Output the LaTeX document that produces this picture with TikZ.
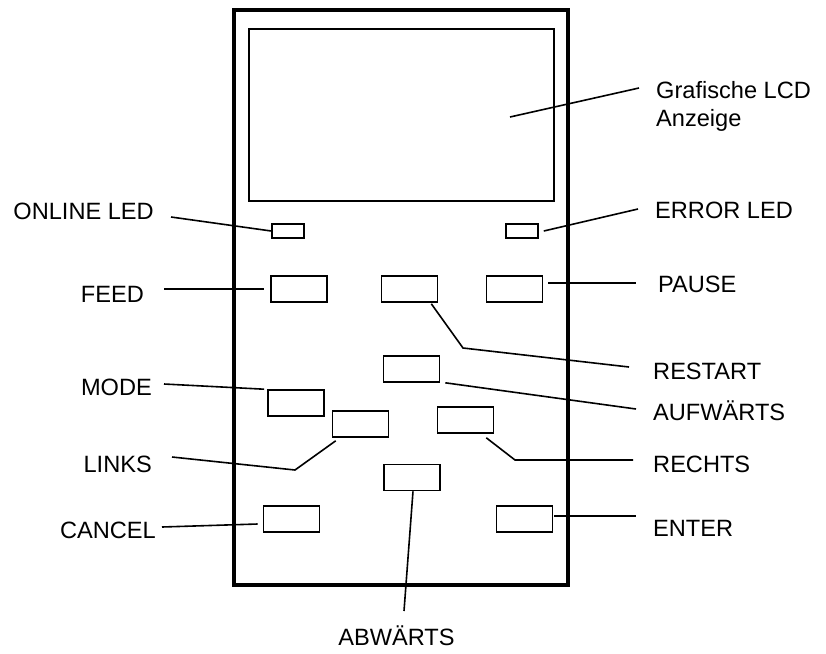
\documentclass[tikz,border=0pt]{standalone}
\usepackage{fontspec}
\setmainfont{Liberation Sans}
\usepackage{tikz}

\begin{document}
\begin{tikzpicture}[x=1pt,y=-1pt,
  btn/.style={draw,line width=1.6pt,minimum width=56pt,minimum height=26pt,inner sep=0pt},
  led/.style={btn,minimum width=32pt,minimum height=14pt},
  lbl/.style={font=\fontsize{23.6}{27.4}\selectfont,inner sep=0pt},
  lead/.style={line width=1.6pt}]
  \useasboundingbox (0,0) rectangle (826,653);
  % housing and display
  \node[draw,line width=3.3pt,minimum width=334pt,minimum height=575pt,inner sep=0pt] (panel) at (401,297.5) {};
  \node[draw,line width=1.6pt,minimum width=305pt,minimum height=172pt,inner sep=0pt] (lcd) at (401.5,115) {};
  % LEDs and keys
  \node[led] (onlineLed) at (288,231) {};
  \node[led] (errLed) at (522,231) {};
  \node[btn] (feed) at (299,289) {};
  \node[btn] (restart) at (409.5,289) {};
  \node[btn] (pause) at (514.5,289) {};
  \node[btn] (up) at (411.5,369) {};
  \node[btn] (mode) at (296,403) {};
  \node[btn] (left) at (360.5,424) {};
  \node[btn] (right) at (465.5,420) {};
  \node[btn] (down) at (412,477.5) {};
  \node[btn] (cancel) at (291.5,519) {};
  \node[btn] (enter) at (524.5,519) {};
  % labels
  \node[lbl,anchor=north west,align=left] (lcdLbl) at (656,81.5) {Grafische LCD\\Anzeige};
  \node[lbl,anchor=base east] (onlineLbl) at (154,219) {ONLINE LED};
  \node[lbl,anchor=base west] (errLbl) at (655,218.3) {ERROR LED};
  \node[lbl,anchor=base east] (feedLbl) at (144,302) {FEED};
  \node[lbl,anchor=base west] (pauseLbl) at (658,292.3) {PAUSE};
  \node[lbl,anchor=base west] (restartLbl) at (653,379.3) {RESTART};
  \node[lbl,anchor=base west] (upLbl) at (653,420.7) {AUFWÄRTS};
  \node[lbl,anchor=base east] (modeLbl) at (152,395) {MODE};
  \node[lbl,anchor=base east] (leftLbl) at (152,472) {LINKS};
  \node[lbl,anchor=base west] (rightLbl) at (653,472.7) {RECHTS};
  \node[lbl,anchor=base east] (cancelLbl) at (156,538) {CANCEL};
  \node[lbl,anchor=base west] (enterLbl) at (653,536) {ENTER};
  \node[lbl,anchor=base] (downLbl) at (396.5,645) {ABWÄRTS};
  % leader ends and bends
  \coordinate (lcdEnd) at (639,88);
  \coordinate (lcdTip) at (510,117);
  \coordinate (onlineEnd) at (171,217);
  \coordinate (errEnd) at (638,209);
  \coordinate (feedEnd) at (164,289);
  \coordinate (pauseEnd) at (636,283);
  \coordinate (restartBend) at (463,348);
  \coordinate (restartEnd) at (629,367);
  \coordinate (upEnd) at (636,409);
  \coordinate (modeEnd) at (164,384);
  \coordinate (leftBend) at (295,470);
  \coordinate (leftEnd) at (172,457);
  \coordinate (rightBend) at (515,460);
  \coordinate (rightEnd) at (633,460);
  \coordinate (downEnd) at (404,611);
  \coordinate (cancelEnd) at (162,527);
  \coordinate (enterEnd) at (636,516);
  % leaders
  \draw[lead] (lcdEnd) -- (lcdTip);
  \draw[lead] (onlineEnd) -- (onlineLed.west);
  \draw[lead] ([xshift=5pt]errLed.east) -- (errEnd);
  \draw[lead] (feedEnd) -- ([xshift=-6pt]feed.west);
  \draw[lead] ([xshift=5pt,yshift=6pt]pause.east) -- (pauseEnd);
  \draw[lead] ([xshift=-7pt,yshift=-1pt]restart.south east) -- (restartBend) -- (restartEnd);
  \draw[lead] ([xshift=5pt]up.south east) -- (upEnd);
  \draw[lead] (modeEnd) -- ([xshift=-3pt]mode.north west);
  \draw[lead] ([xshift=4pt,yshift=-3pt]left.south west) -- (leftBend) -- (leftEnd);
  \draw[lead] ([xshift=-8pt,yshift=-4pt]right.south east) -- (rightBend) -- (rightEnd);
  \draw[lead] ([xshift=1pt]down.south) -- (downEnd);
  \draw[lead] (cancelEnd) -- ([xshift=-5pt,yshift=-5pt]cancel.west);
  \draw[lead] ([xshift=1pt,yshift=3pt]enter.east) -- (enterEnd);
\end{tikzpicture}
\end{document}
